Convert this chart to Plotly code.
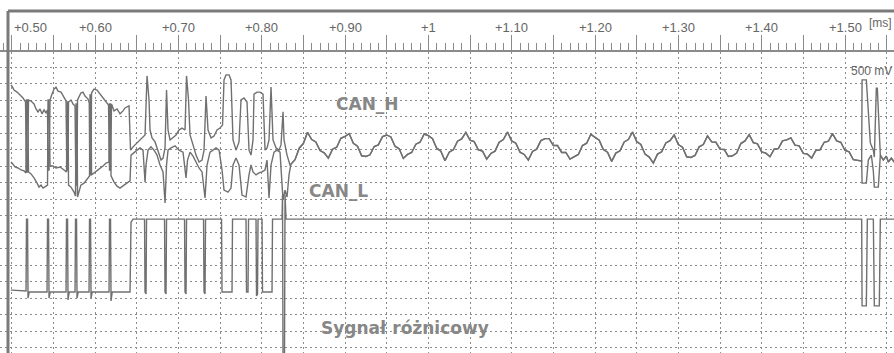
import plotly.graph_objects as go

# ---------------- data (time in ms, level in V, 500 mV / div) ----------------
tick_vals = [0.5, 0.6, 0.7, 0.8, 0.9, 1.0, 1.1, 1.2, 1.3, 1.4, 1.5]
tick_labels = ["+0.50", "+0.60", "+0.70", "+0.80", "+0.90", "+1",
               "+1.10", "+1.20", "+1.30", "+1.40", "+1.50"]

# CAN_H before the idle ringing
canh_head = [
    (0.4990, 7.95), (0.5004, 7.92), (0.5028, 7.80), (0.5064, 7.74), (0.5100, 7.65), (0.5136, 7.56),
    (0.5166, 7.44), (0.5178, 5.32), (0.5190, 5.32), (0.5202, 7.50), (0.5232, 7.47),
    (0.5268, 7.38), (0.5292, 7.23), (0.5316, 7.14), (0.5340, 7.23), (0.5364, 7.08),
    (0.5388, 7.20), (0.5412, 7.11), (0.5430, 7.20), (0.5436, 5.38), (0.5448, 5.38),
    (0.5460, 7.50), (0.5484, 7.68), (0.5508, 7.83), (0.5532, 7.89), (0.5556, 7.77),
    (0.5592, 7.74), (0.5628, 7.59), (0.5652, 7.47), (0.5662, 5.38), (0.5674, 5.38),
    (0.5682, 7.44), (0.5712, 7.50), (0.5736, 7.38), (0.5760, 7.32), (0.5770, 4.92),
    (0.5782, 4.92), (0.5790, 7.50), (0.5808, 7.59), (0.5830, 7.71), (0.5856, 7.74),
    (0.5880, 7.62), (0.5916, 7.53), (0.5931, 7.41), (0.5937, 5.23), (0.5952, 5.23),
    (0.5958, 7.71), (0.5988, 7.83), (0.6024, 7.80), (0.6060, 7.68), (0.6096, 7.59),
    (0.6132, 7.44), (0.6162, 7.35), (0.6174, 5.38), (0.6186, 5.38), (0.6198, 7.38),
    (0.6228, 7.17), (0.6264, 7.23), (0.6300, 7.08), (0.6336, 7.17), (0.6360, 7.26),
    (0.6408, 7.32), (0.6426, 5.98), (0.6456, 6.08), (0.6504, 6.20), (0.6540, 6.29),
    (0.6576, 6.38), (0.6600, 6.44), (0.6624, 8.23), (0.6648, 7.50), (0.6660, 6.59),
    (0.6684, 6.35), (0.6720, 6.23), (0.6756, 5.98), (0.6792, 5.68), (0.6816, 5.74),
    (0.6840, 6.05), (0.6858, 7.80), (0.6876, 6.59), (0.6900, 6.29), (0.6936, 6.38),
    (0.6972, 6.44), (0.7008, 6.59), (0.7044, 6.65), (0.7080, 6.59), (0.7098, 8.23),
    (0.7122, 7.50), (0.7140, 6.44), (0.7176, 6.14), (0.7212, 5.83), (0.7248, 5.62),
    (0.7284, 5.68), (0.7308, 5.98), (0.7332, 7.62), (0.7356, 6.59), (0.7392, 6.35),
    (0.7428, 6.41), (0.7464, 6.59), (0.7500, 6.65), (0.7530, 6.74), (0.7548, 8.11),
    (0.7572, 8.26), (0.7608, 8.26), (0.7632, 8.11), (0.7656, 6.29), (0.7692, 5.98),
    (0.7728, 6.23), (0.7752, 7.50), (0.7788, 7.56), (0.7824, 7.44), (0.7848, 5.98),
    (0.7872, 5.83), (0.7896, 6.29), (0.7908, 7.68), (0.7944, 7.74), (0.7980, 7.74),
    (0.8016, 7.68), (0.8040, 5.98), (0.8064, 6.05), (0.8088, 6.29), (0.8112, 7.89),
    (0.8136, 6.29), (0.8172, 6.05), (0.8208, 5.98), (0.8232, 6.14), (0.8256, 7.14),
    (0.8268, 6.29), (0.8304, 5.83), (0.8340, 5.53),
]

# CAN_L before the idle ringing
canl_head = [
    (0.4990, 5.62), (0.5004, 5.59), (0.5040, 5.47), (0.5076, 5.44), (0.5112, 5.38), (0.5148, 5.35),
    (0.5172, 5.29), (0.5178, 7.50), (0.5190, 7.50), (0.5202, 5.32), (0.5232, 5.26),
    (0.5268, 5.14), (0.5304, 4.98), (0.5328, 4.86), (0.5352, 4.92), (0.5376, 4.83),
    (0.5412, 4.89), (0.5430, 4.92), (0.5436, 7.50), (0.5448, 7.50), (0.5460, 5.50),
    (0.5496, 5.50), (0.5532, 5.44), (0.5580, 5.47), (0.5628, 5.38), (0.5658, 5.32),
    (0.5664, 7.44), (0.5676, 7.44), (0.5682, 4.92), (0.5712, 4.86), (0.5748, 4.71),
    (0.5766, 4.59), (0.5772, 7.38), (0.5784, 7.38), (0.5790, 4.56), (0.5808, 4.77),
    (0.5830, 4.92), (0.5868, 4.98), (0.5916, 5.14), (0.5934, 5.20), (0.5940, 7.65),
    (0.5952, 7.65), (0.5958, 5.23), (0.5988, 5.29), (0.6024, 5.35), (0.6060, 5.41),
    (0.6096, 5.50), (0.6132, 5.59), (0.6168, 5.62), (0.6174, 7.38), (0.6186, 7.38),
    (0.6192, 5.20), (0.6228, 5.01), (0.6264, 4.89), (0.6300, 4.83), (0.6348, 4.92),
    (0.6396, 5.01), (0.6420, 5.05), (0.6432, 5.83), (0.6468, 5.92), (0.6504, 5.98),
    (0.6540, 6.05), (0.6576, 5.98), (0.6600, 5.01), (0.6612, 5.53), (0.6636, 5.98),
    (0.6672, 6.08), (0.6708, 5.98), (0.6744, 5.83), (0.6780, 5.53), (0.6816, 5.32),
    (0.6840, 4.38), (0.6858, 5.53), (0.6876, 5.98), (0.6912, 6.05), (0.6960, 6.11),
    (0.7008, 5.98), (0.7056, 5.92), (0.7092, 5.14), (0.7110, 5.68), (0.7140, 5.92),
    (0.7176, 5.80), (0.7212, 5.62), (0.7248, 5.44), (0.7284, 5.32), (0.7320, 4.53),
    (0.7344, 5.53), (0.7380, 5.92), (0.7416, 5.98), (0.7452, 6.05), (0.7488, 5.98),
    (0.7524, 5.38), (0.7548, 4.77), (0.7596, 4.71), (0.7632, 4.83), (0.7656, 5.53),
    (0.7692, 5.74), (0.7728, 5.53), (0.7764, 4.62), (0.7812, 4.56), (0.7848, 5.23),
    (0.7872, 5.53), (0.7896, 5.32), (0.7932, 5.23), (0.7968, 5.29), (0.8004, 5.32),
    (0.8040, 5.38), (0.8064, 5.68), (0.8088, 4.53), (0.8112, 5.53), (0.8148, 5.92),
    (0.8184, 5.98), (0.8220, 5.92), (0.8256, 4.47), (0.8280, 4.77), (0.8304, 4.56),
    (0.8328, 5.23),
]

# idle-bus ringing shared by CAN_H and CAN_L, sampled every 5 us from 0.835 ms
ring_t0 = 0.835
ring_dt = 0.005
ring_v = [
    5.55, 5.69, 6.04, 6.18, 6.52, 6.30, 6.23, 5.97, 5.90, 5.74,
    6.01, 6.07, 6.34, 6.40, 6.48, 6.19, 6.10, 5.81, 5.79, 5.84,
    6.09, 6.14, 6.39, 6.44, 6.38, 6.10, 6.02, 5.73, 5.85, 5.91,
    6.16, 6.22, 6.47, 6.42, 6.33, 6.04, 5.95, 5.66, 5.92, 5.99,
    6.25, 6.32, 6.52, 6.28, 6.24, 5.99, 5.95, 5.71, 5.88, 5.95,
    6.22, 6.30, 6.53, 6.26, 6.19, 5.92, 5.85, 5.68, 5.94, 6.01,
    6.27, 6.33, 6.33, 6.12, 6.12, 5.91, 5.91, 5.71, 5.78, 5.85,
    6.12, 6.19, 6.46, 6.36, 6.28, 6.00, 5.92, 5.64, 5.89, 5.96,
    6.23, 6.30, 6.53, 6.24, 6.15, 5.86, 5.77, 5.59, 5.86, 5.93,
    6.20, 6.27, 6.44, 6.15, 6.07, 5.78, 5.76, 5.82, 6.08, 6.15,
    6.41, 6.23, 6.22, 6.01, 6.00, 5.79, 5.81, 5.89, 6.18, 6.26,
    6.45, 6.21, 6.17, 5.93, 5.89, 5.78, 6.01, 6.03, 6.26, 6.29,
    6.35, 6.13, 6.11, 5.88, 5.86, 5.74, 5.97, 5.99, 6.22, 6.25,
    6.48, 6.26, 6.22, 5.97, 5.93, 5.69, 5.67, 5.65,
]

canh_tail = [
    (1.5205, 8.11), (1.5256, 8.11), (1.5304, 6.20), (1.5340, 5.98), (1.5352, 5.77),
    (1.5376, 7.86), (1.5388, 7.86), (1.5424, 5.83), (1.5460, 5.68), (1.5496, 5.80),
    (1.5520, 5.62), (1.5556, 5.74), (1.5590, 5.62),
]
canl_tail = [
    (1.5205, 4.98), (1.5256, 4.98), (1.5280, 5.68), (1.5316, 5.83), (1.5340, 5.35),
    (1.5352, 4.86), (1.5400, 4.86), (1.5424, 5.83), (1.5460, 5.68), (1.5496, 5.80),
    (1.5520, 5.62), (1.5556, 5.74), (1.5590, 5.62),
]

# differential signal
diff_pts = [
    (0.4990, 1.74), (0.5004, 1.74), (0.5172, 1.71), (0.5178, 3.89), (0.5190, 3.89), (0.5196, 1.50),
    (0.5210, 1.68), (0.5424, 1.68), (0.5430, 3.89), (0.5442, 3.89), (0.5448, 1.50),
    (0.5462, 1.68), (0.5652, 1.68), (0.5658, 3.89), (0.5670, 3.89), (0.5676, 1.44),
    (0.5690, 1.68), (0.5760, 1.68), (0.5766, 3.89), (0.5778, 3.89), (0.5784, 1.50),
    (0.5798, 1.68), (0.5928, 1.68), (0.5934, 3.89), (0.5946, 3.89), (0.5952, 1.50),
    (0.5966, 1.68), (0.6168, 1.68), (0.6174, 3.89), (0.6186, 3.89), (0.6192, 1.41),
    (0.6206, 1.68), (0.6420, 1.68), (0.6432, 3.80), (0.6456, 3.89),
    (0.6594, 3.89), (0.6600, 1.68), (0.6612, 1.62), (0.6618, 3.89),
    (0.6834, 3.89), (0.6840, 1.68), (0.6852, 1.62), (0.6858, 3.89),
    (0.7074, 3.89), (0.7080, 1.68), (0.7092, 1.62), (0.7098, 3.89),
    (0.7302, 3.89), (0.7308, 1.68), (0.7320, 1.62), (0.7326, 3.89),
    (0.7518, 3.89), (0.7524, 1.68), (0.7644, 1.68), (0.7650, 3.89),
    (0.7812, 3.89), (0.7818, 1.68), (0.7836, 1.68), (0.7842, 3.89),
    (0.7932, 3.89), (0.7938, 1.56), (0.7950, 1.62), (0.7956, 3.89),
    (0.8004, 3.89), (0.8010, 1.68), (0.8124, 1.68), (0.8130, 3.89),
    (0.8244, 3.89), (0.8250, 4.62), (0.8256, -0.30), (0.8274, -0.30), (0.8280, 4.62),
    (0.8292, 3.89), (1.5200, 3.89), (1.5205, 1.26), (1.5256, 1.26), (1.5268, 3.89),
    (1.5340, 3.89), (1.5352, 1.26), (1.5412, 1.26), (1.5424, 3.89), (1.5590, 3.89),
]

# ---------------- assemble ----------------
ring_t = [ring_t0 + ring_dt * i for i in range(len(ring_v))]

canh_t = [p[0] for p in canh_head] + ring_t + [p[0] for p in canh_tail]
canh_v = [p[1] for p in canh_head] + ring_v + [p[1] for p in canh_tail]
canl_t = [p[0] for p in canl_head] + ring_t + [p[0] for p in canl_tail]
canl_v = [p[1] for p in canl_head] + ring_v + [p[1] for p in canl_tail]
diff_t = [p[0] for p in diff_pts]
diff_v = [p[1] for p in diff_pts]

W, H = 894, 353
TRACE = "#707070"
GRID = "#8c8c8c"
TEXT = "#666666"

fig = go.Figure()
for tt, vv in ((diff_t, diff_v), (canl_t, canl_v), (canh_t, canh_v)):
    fig.add_trace(go.Scatter(x=tt, y=vv, mode="lines",
                             line=dict(color=TRACE, width=1.4),
                             hoverinfo="skip", showlegend=False))

ydom_top = (H - 52) / H
fig.update_layout(
    width=W, height=H,
    margin=dict(l=0, r=0, t=0, b=0),
    paper_bgcolor="white", plot_bgcolor="white",
    xaxis=dict(
        domain=[0, 1], range=[0.48596, 1.5588], side="top",
        showline=True, linecolor="#8a8a8a", linewidth=1.5,
        ticks="outside", ticklen=15, tickwidth=1, tickcolor="#8a8a8a",
        tick0=0.5, dtick=0.05, showticklabels=False,
        showgrid=True, gridcolor=GRID, gridwidth=1, griddash="2px,3px",
        minor=dict(tick0=0.5, dtick=0.01, ticks="outside", ticklen=7,
                   tickwidth=1, tickcolor="#8a8a8a", showgrid=False),
        zeroline=False, fixedrange=True,
    ),
    yaxis=dict(
        domain=[0, ydom_top], range=[-0.1667, 8.9545],
        tick0=0, dtick=0.5, showticklabels=False, ticks="",
        showgrid=True, gridcolor=GRID, gridwidth=1, griddash="2px,3px",
        zeroline=False, showline=False, fixedrange=True,
    ),
)

# frame
fx = 8 / W
fy = 1 - 11 / H
fig.add_shape(type="line", xref="paper", yref="paper", x0=fx, x1=fx, y0=0, y1=fy,
              line=dict(color="#7a7a7a", width=3))
fig.add_shape(type="line", xref="paper", yref="paper", x0=fx, x1=1, y0=fy, y1=fy,
              line=dict(color="#7a7a7a", width=3))

# ruler labels
lab_y = 1 - 28 / H
for i, (tv, tl) in enumerate(zip(tick_vals, tick_labels)):
    fig.add_annotation(x=tv, xref="x", y=lab_y, yref="paper", text=tl,
                       showarrow=False, xanchor="left" if i == 0 else "center",
                       yanchor="middle",
                       font=dict(family="Liberation Sans", size=13, color=TEXT))
fig.add_annotation(x=880 / W, xref="paper", y=1 - 23 / H, yref="paper", text="[ms]",
                   showarrow=False, xanchor="center", yanchor="middle",
                   font=dict(family="Liberation Sans", size=12, color=TEXT))
fig.add_annotation(x=871 / W, xref="paper", y=1 - 71 / H, yref="paper", text="500 mV",
                   showarrow=False, xanchor="center", yanchor="middle",
                   font=dict(family="Liberation Sans", size=12, color=TEXT))

# channel labels
lbl_font = dict(family="DejaVu Sans", size=17, color="#878787")
fig.add_annotation(x=367 / W, xref="paper", y=1 - 104 / H, yref="paper",
                   text="<b>CAN_H</b>", showarrow=False, font=lbl_font,
                   xanchor="center", yanchor="middle")
fig.add_annotation(x=338 / W, xref="paper", y=1 - 191 / H, yref="paper",
                   text="<b>CAN_L</b>", showarrow=False, font=lbl_font,
                   xanchor="center", yanchor="middle")
fig.add_annotation(x=405 / W, xref="paper", y=1 - 328 / H, yref="paper",
                   text="<b>Sygnał różnicowy</b>", showarrow=False, font=lbl_font,
                   xanchor="center", yanchor="middle")

fig.write_html("out.html")
